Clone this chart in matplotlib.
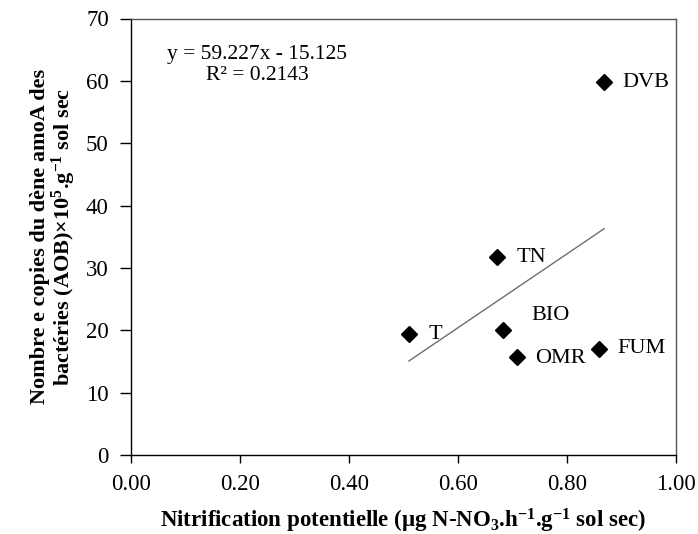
import matplotlib
matplotlib.use("Agg")
import matplotlib.pyplot as plt
import numpy as np

plt.rcParams['font.family'] = ['Liberation Serif', 'DejaVu Serif']
plt.rcParams['mathtext.fontset'] = 'custom'
plt.rcParams['mathtext.rm'] = 'Liberation Serif'
plt.rcParams['mathtext.it'] = 'Liberation Serif:italic'
plt.rcParams['mathtext.bf'] = 'Liberation Serif:bold'

treatments = ["T", "TN", "BIO", "OMR", "FUM", "DVB"]
nitrification = [0.510, 0.672, 0.682, 0.709, 0.859, 0.868]
aob_copies = [19.4, 31.7, 20.1, 15.7, 17.0, 59.8]
slope = 59.227
intercept = -15.125
r2 = 0.2143
xticks = [0.0, 0.2, 0.4, 0.6, 0.8, 1.0]
yticks = [0, 10, 20, 30, 40, 50, 60, 70]

fig = plt.figure(figsize=(6.98, 5.34), dpi=100)
ax = fig.add_axes([131/698, 1-455/534, (676-131)/698, (455-18.5)/534])

x = np.array(nitrification)
y = np.array(aob_copies)
ax.plot(x, y, linestyle='none', marker='D', ms=8, color='black', zorder=3)

xl = np.array([x.min(), x.max()])
ax.plot(xl, slope*xl + intercept, color='#6e6e6e', lw=1.0, zorder=2)

offsets = {"T": (14, 0), "TN": (14, 0), "BIO": (21, 10), "OMR": (13, -1), "FUM": (13, 0), "DVB": (13, 0)}
for name, xi, yi in zip(treatments, x, y):
    ax.annotate(name, (xi, yi), xytext=offsets[name], textcoords='offset points',
                ha='left', va='center', fontsize=16, color='black')

ax.text(0.232, 0.893, f"y = {slope}x - {abs(intercept)}\nR² = {r2}", transform=ax.transAxes,
        ha='center', va='center', multialignment='center', fontsize=15.5, linespacing=1.15)

ax.set_xlim(0, 1)
ax.set_ylim(0, 70)
ax.set_xticks(xticks)
ax.set_xticklabels([f"{v:.2f}" for v in xticks])
ax.set_yticks(yticks)
ax.tick_params(axis='both', direction='out', width=1, labelsize=16.5, color='black')
ax.tick_params(axis='x', length=6, pad=8)
ax.tick_params(axis='y', length=8, pad=8)

for side in ['left', 'bottom']:
    ax.spines[side].set_color('black')
    ax.spines[side].set_linewidth(1.0)
for side in ['top', 'right']:
    ax.spines[side].set_color('#555555')
    ax.spines[side].set_linewidth(1.0)

ax.set_xlabel(r"Nitrification potentielle (µg N-NO$_{\mathbf{3}}$.h$^{\mathbf{-1}}$.g$^{\mathbf{-1}}$ sol sec)",
              fontsize=16.5, fontweight='bold', labelpad=8)
ax.set_ylabel("Nombre e copies du dène amoA des\n" + r"bactéries (AOB)×10$^{\mathbf{5}}$.g$^{\mathbf{-1}}$ sol sec",
              fontsize=16, fontweight='bold', labelpad=6, linespacing=0.95)

fig.savefig("out.png", dpi=100)
